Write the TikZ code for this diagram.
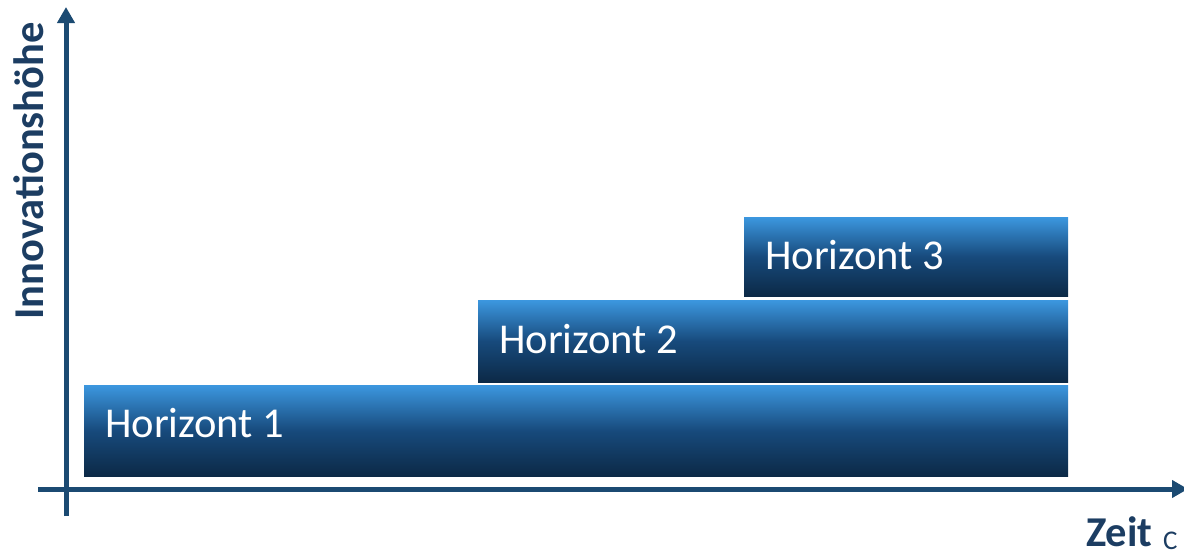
\documentclass[tikz,border=0pt]{standalone}
\usepackage{fontspec}
\setmainfont{Carlito}
\usetikzlibrary{arrows.meta,calc}
\definecolor{axisblue}{HTML}{1B4A72}
\definecolor{labelblue}{HTML}{1C3D62}
\definecolor{gtop}{HTML}{3C97DF}
\definecolor{gmid}{HTML}{174A7C}
\definecolor{gbot}{HTML}{0C2946}
\tikzset{
  hbox/.style={shade, top color=gtop, bottom color=gbot, middle color=gmid, draw=none, inner sep=0pt, anchor=north west},
  htext/.style={text=white, font=\fontsize{42.5}{42.5}\selectfont, anchor=base west, inner sep=0pt},
  axis/.style={draw=axisblue, line width=5pt, -{Triangle[length=16pt,width=17pt]}},
  axlabel/.style={text=labelblue, font=\fontsize{42.5}{42.5}\selectfont\bfseries, inner sep=0pt}
}
\begin{document}
\begin{tikzpicture}[x=1pt,y=-1pt]
\useasboundingbox (0,0) rectangle (1184,557);
% boxes
\node[hbox, minimum width=984pt, minimum height=91pt] (h1) at (84,385) {};
\node[hbox, minimum width=590pt, minimum height=82pt] (h2) at (478,300) {};
\node[hbox, minimum width=324pt, minimum height=79pt] (h3) at (744,217) {};
\node[htext] (t1) at ($(h1.north west)+(21,52)$) {Horizont 1};
\node[htext] (t2) at ($(h2.north west)+(21,53)$) {Horizont 2};
\node[htext] (t3) at ($(h3.north west)+(21,52)$) {Horizont 3};
% axes
\coordinate (ybot) at (66,516);
\coordinate (ytop) at (66,7);
\coordinate (xleft) at (38,489);
\coordinate (xright) at (1188,489);
\draw[axis] (ybot) -- (ytop);
\draw[axis] (xleft) -- (xright);
% labels
\node[axlabel, rotate=90] (ylab) at (29,171) {Innovationshöhe};
\node[axlabel, anchor=base west] (xlab) at (1086,546) {Zeit};
\node[text=labelblue, font=\fontsize{27}{27}\selectfont, anchor=base west, inner sep=0pt] (c) at (1163,549) {C};
\end{tikzpicture}
\end{document}
